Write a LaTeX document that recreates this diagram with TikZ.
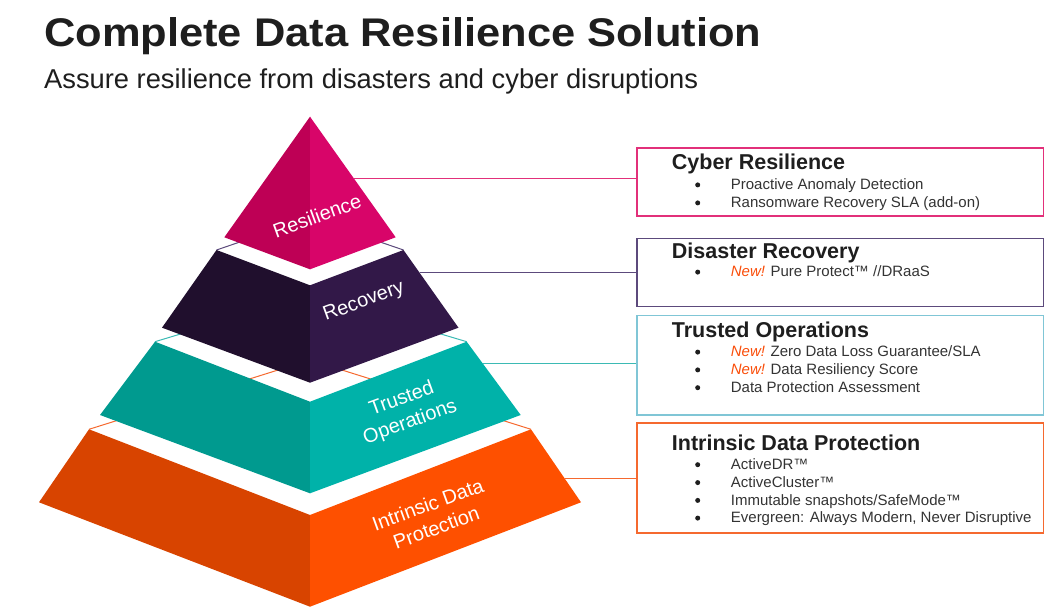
\documentclass[tikz,border=0pt]{standalone}
\usepackage{fontspec}
\setmainfont{Liberation Sans}
\usepackage{graphicx}
\usetikzlibrary{calc}
\definecolor{resL}{HTML}{BE0055}
\definecolor{resR}{HTML}{D80569}
\definecolor{recL}{HTML}{200F2D}
\definecolor{recR}{HTML}{321848}
\definecolor{truL}{HTML}{009A8F}
\definecolor{truR}{HTML}{00B2A9}
\definecolor{intL}{HTML}{D84400}
\definecolor{intR}{HTML}{FE5000}
\definecolor{lnRes}{HTML}{E2307A}
\definecolor{lnRec}{HTML}{5C4A7C}
\definecolor{lnTru}{HTML}{3BBAB4}
\definecolor{bxTru}{HTML}{80C6D6}
\definecolor{lnInt}{HTML}{F5692F}
\definecolor{newc}{HTML}{FA4E0A}
\definecolor{txt}{HTML}{1E1E1E}
\definecolor{itxt}{HTML}{333333}
\newcommand\bitem[4]{%
  \node[bulstyle] (#1b) at (697.7,#2-4.6) {};
  \node[itemstyle] (#1) at (730.7,#2) {#3};}
\begin{document}
\begin{tikzpicture}[x=1pt,y=-1pt,
  backline/.style={line width=1pt},
  conn/.style={line width=1.5pt},
  boxstyle/.style={draw=#1, line width=1.6pt, inner sep=0pt, fill=none},
  boxtitle/.style={anchor=base west, inner sep=0pt, text=txt, font=\fontsize{21.5}{24}\selectfont\bfseries},
  itemstyle/.style={anchor=base west, inner sep=0pt, text=itxt, font=\fontsize{15}{17}\selectfont},
  bulstyle/.style={circle, fill=txt, draw=none, inner sep=0pt, minimum size=5pt},
  tierlabel/.style={text=white, align=center, rotate=20, inner sep=0pt, font=\fontsize{20}{24.5}\selectfont}
]
\useasboundingbox (0,0) rectangle (1050,609);

% headings
\node[anchor=base west, inner sep=0pt, text=txt] (title) at (44,46.7)
  {\resizebox{717pt}{\height}{\fontsize{40}{44}\selectfont\bfseries Complete Data Resilience Solution}};
\node[anchor=base west, inner sep=0pt, text=txt] (subtitle) at (44,88.3)
  {\fontsize{27.3}{30}\selectfont Assure resilience from disasters and cyber disruptions};

% ---------- Intrinsic tier ----------
\draw[backline, lnInt] (89,429.3) -- (310,360) -- (531,429.3);
\fill[intL] (89,429.3) -- (310,515) -- (310,606.7) -- (39,502.3) -- cycle;
\fill[intR] (531,429.3) -- (310,515) -- (310,606.7) -- (581,502.3) -- cycle;

% ---------- Trusted tier ----------
\draw[backline, lnTru] (155,341.7) -- (310,295) -- (466.7,341.7);
\fill[truL] (155,341.7) -- (310,401.7) -- (310,493.3) -- (100,415) -- cycle;
\fill[truR] (466.7,341.7) -- (310,401.7) -- (310,493.3) -- (520.7,415) -- cycle;

% ---------- Recovery tier ----------
\draw[backline, lnRec] (216.5,250) -- (310,218) -- (403.5,250);
\fill[recL] (216.5,250) -- (310,285.3) -- (310,382.7) -- (162,327.7) -- cycle;
\fill[recR] (403.5,250) -- (310,285.3) -- (310,382.7) -- (458.5,327.7) -- cycle;

% ---------- Resilience tier ----------
\fill[resL] (310,116.7) -- (224.3,237.3) -- (310,269.3) -- cycle;
\fill[resR] (310,116.7) -- (395.7,237.3) -- (310,269.3) -- cycle;

% tier labels
\node[tierlabel] (lres) at (317,216) {Resilience};
\node[tierlabel] (lrec) at (364,302) {Recovery};
\node[tierlabel] (ltru) at (406,411) {Trusted\\Operations};
\node[tierlabel] (lint) at (432,516) {Intrinsic Data\\Protection};

% boxes
\node[boxstyle=lnRes, minimum width=406.5pt, minimum height=68pt] (b1) at (840.25,182) {};
\node[boxstyle=lnRec, minimum width=406.5pt, minimum height=68pt] (b2) at (840.25,272.7) {};
\node[boxstyle=bxTru, minimum width=406.5pt, minimum height=99.3pt] (b3) at (840.25,365.35) {};
\node[boxstyle=lnInt, minimum width=406.5pt, minimum height=109.4pt] (b4) at (840.25,478) {};

% connectors
\coordinate (c1) at (353.9,178.3);
\coordinate (c2) at (420.2,272.7);
\coordinate (c3) at (482.6,363.3);
\coordinate (c4) at (564.6,478.3);
\draw[conn, lnRes] (c1) -- (c1 -| b1.west);
\draw[conn, lnRec] (c2) -- (c2 -| b2.west);
\draw[conn, lnTru] (c3) -- (c3 -| b3.west);
\draw[conn, lnInt] (c4) -- (c4 -| b4.west);

% box texts
\node[boxtitle] (t1) at (671.7,170) {Cyber Resilience};
\bitem{i11}{189.5}{Proactive Anomaly Detection}{}
\bitem{i12}{207.5}{Ransomware Recovery SLA (add-on)}{}

\node[boxtitle] (t2) at (671.7,259) {Disaster Recovery};
\bitem{i21}{276.7}{{\color{newc}\itshape New!} Pure Protect™ //DRaaS}{}

\node[boxtitle] (t3) at (671.7,337.3) {Trusted Operations};
\bitem{i31}{356.7}{{\color{newc}\itshape New!} Zero Data Loss Guarantee/SLA}{}
\bitem{i32}{374.5}{{\color{newc}\itshape New!} Data Resiliency Score}{}
\bitem{i33}{392.3}{Data Protection Assessment}{}

\node[boxtitle] (t4) at (671.7,450) {Intrinsic Data Protection};
\bitem{i41}{469.3}{ActiveDR™}{}
\bitem{i42}{487.2}{ActiveCluster™}{}
\bitem{i43}{505}{Immutable snapshots/SafeMode™}{}
\bitem{i44}{522.7}{Evergreen: Always Modern, Never Disruptive}{}
\end{tikzpicture}
\end{document}
